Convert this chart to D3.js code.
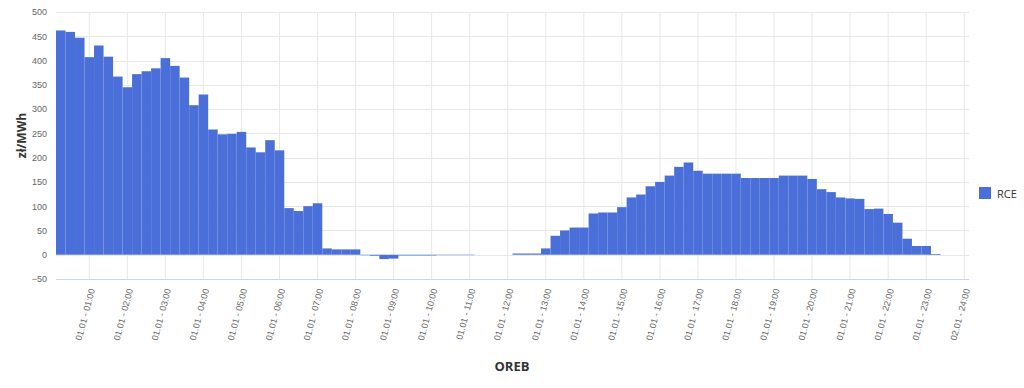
<!DOCTYPE html>
<html>
<head>
<meta charset="utf-8">
<script src="https://cdn.jsdelivr.net/npm/d3@7"></script>
<style>
  body { margin: 0; background: #fff; }
  svg { display: block; font-family: "Open Sans", sans-serif; }
</style>
</head>
<body>
<svg id="chart" width="1024" height="388"></svg>
<script>
// RCE price per 15-minute slot, zł/MWh (96 slots)
const rceValues = [
  462, 459, 447, 407, 431, 408, 367, 345,
  372, 378, 384, 405, 389, 365, 308, 330,
  258, 248, 249, 253, 221, 211, 236, 215,
  96, 90, 100, 106, 13, 11, 11, 11,
  -1, -2, -9, -8, -1.5, -1.5, -1.5, -1.5,
  -0.8, -0.8, -0.8, -0.8, 0, 0, 0, 0,
  2.5, 2.5, 2.5, 13, 39, 50, 56, 56,
  85, 87, 87, 98, 118, 124, 141, 150,
  163, 181, 190, 173, 167, 167, 167, 167,
  158, 158, 158, 158, 163, 163, 163, 156,
  135, 129, 118, 116, 115, 94, 95, 84,
  66, 33, 18, 18, 1.5, 0, 0, 0
];

// one label per hour, shown on the last slot of that hour
const tickLabels = [
  "01.01 - 01:00", "01.01 - 02:00", "01.01 - 03:00", "01.01 - 04:00",
  "01.01 - 05:00", "01.01 - 06:00", "01.01 - 07:00", "01.01 - 08:00",
  "01.01 - 09:00", "01.01 - 10:00", "01.01 - 11:00", "01.01 - 12:00",
  "01.01 - 13:00", "01.01 - 14:00", "01.01 - 15:00", "01.01 - 16:00",
  "01.01 - 17:00", "01.01 - 18:00", "01.01 - 19:00", "01.01 - 20:00",
  "01.01 - 21:00", "01.01 - 22:00", "01.01 - 23:00", "02.01 - 24:00"
];

const yTicks = [-50, 0, 50, 100, 150, 200, 250, 300, 350, 400, 450, 500];
const seriesName = "RCE";
const yTitle = "zł/MWh";
const xTitle = "OREB";

const svg = d3.select("#chart");
const plotLeft = 56, plotRight = 969, plotTop = 12, plotBottom = 279;
const barColor = "#4a6fd8";

const slots = d3.range(rceValues.length);
const x = d3.scaleBand().domain(slots).range([plotLeft, plotRight]).padding(0);
const y = d3.scaleLinear().domain([-50, 500]).range([plotBottom, plotTop]);

// tick slots: every 4th slot (end of each hour)
const tickSlots = slots.filter(i => (i + 1) % 4 === 0);
const labelFor = new Map(tickSlots.map((s, k) => [s, tickLabels[k]]));

// horizontal grid
svg.append("g")
  .selectAll("line")
  .data(yTicks.filter(t => t !== -50))
  .join("line")
  .attr("x1", plotLeft).attr("x2", plotRight)
  .attr("y1", d => Math.round(y(d)) + 0.5).attr("y2", d => Math.round(y(d)) + 0.5)
  .attr("stroke", "#e8e8e8");

// vertical grid
svg.append("g")
  .selectAll("line")
  .data(tickSlots)
  .join("line")
  .attr("x1", d => x(d) + x.bandwidth() / 2).attr("x2", d => x(d) + x.bandwidth() / 2)
  .attr("y1", plotTop).attr("y2", plotBottom)
  .attr("stroke", "#e8e8e8");

// bars
svg.append("g")
  .selectAll("rect")
  .data(rceValues)
  .join("rect")
  .attr("x", (d, i) => x(i))
  .attr("width", x.bandwidth())
  .attr("y", d => y(Math.max(0, d)))
  .attr("height", d => Math.abs(y(d) - y(0)))
  .attr("fill", barColor);

// y axis
const yAxis = svg.append("g")
  .attr("transform", `translate(${plotLeft},0)`)
  .call(d3.axisLeft(y).tickValues(yTicks).tickSize(0).tickPadding(9));
yAxis.select(".domain").remove();
yAxis.selectAll("text").attr("fill", "#666").style("font-size", "9px");

// x axis
const xAxis = svg.append("g")
  .attr("transform", `translate(0,${plotBottom})`)
  .call(d3.axisBottom(x).tickValues(tickSlots).tickSize(0).tickFormat(d => labelFor.get(d)));
xAxis.select(".domain").attr("stroke", "#ccd6eb").attr("d", `M${plotLeft},0.5H${plotRight}`);
xAxis.selectAll("text")
  .attr("fill", "#666")
  .style("font-size", "9px")
  .attr("text-anchor", "end")
  .attr("dy", "0.32em")
  .attr("transform", "translate(3,10) rotate(-75)")
  .attr("x", 0).attr("y", 0);

// axis titles
svg.append("text")
  .attr("transform", `translate(26,${(plotTop + plotBottom) / 2 - 10}) rotate(-90)`)
  .attr("text-anchor", "middle")
  .attr("fill", "#333")
  .style("font-size", "12px")
  .style("font-weight", "bold")
  .text(yTitle);

svg.append("text")
  .attr("x", 512).attr("y", 371)
  .attr("text-anchor", "middle")
  .attr("fill", "#333")
  .style("font-size", "13px")
  .style("font-weight", "bold")
  .text(xTitle);

// legend
const legend = svg.append("g").attr("transform", "translate(979,187)");
legend.append("rect").attr("width", 12).attr("height", 12).attr("fill", barColor);
legend.append("text").attr("x", 18).attr("y", 10.5)
  .attr("fill", "#333").style("font-size", "11px").text(seriesName);
</script>
</body>
</html>
